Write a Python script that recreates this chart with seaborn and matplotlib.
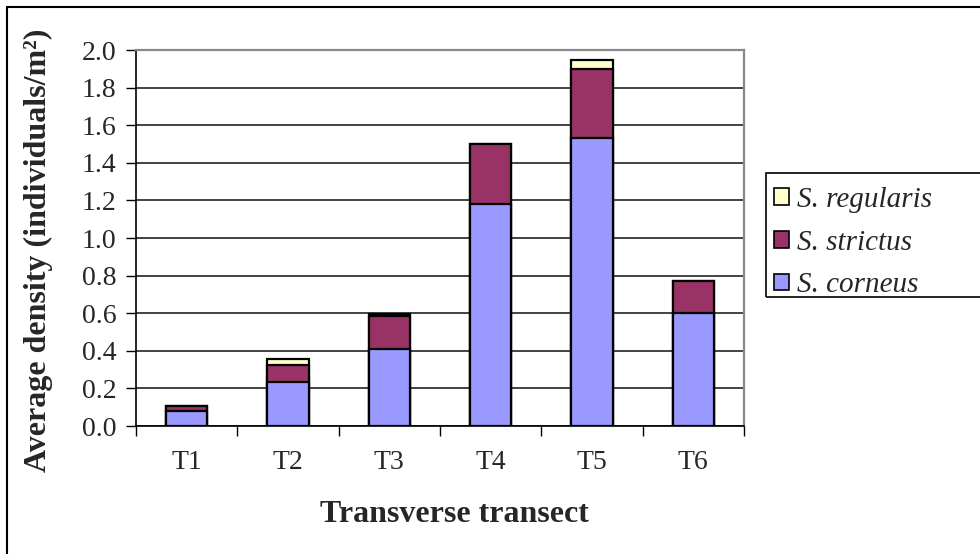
import matplotlib
matplotlib.use("Agg")
import matplotlib.pyplot as plt
import seaborn as sns
import numpy as np
import pandas as pd
from matplotlib.patches import Patch
from matplotlib.lines import Line2D

transects = ["T1", "T2", "T3", "T4", "T5", "T6"]
corneus = [0.08, 0.235, 0.41, 1.18, 1.53, 0.60]
strictus = [0.025, 0.09, 0.175, 0.32, 0.37, 0.17]
regularis = [0.0, 0.03, 0.01, 0.0, 0.045, 0.0]
species = ["S. regularis", "S. strictus", "S. corneus"]
colors = {"S. corneus": "#9999FF", "S. strictus": "#993366", "S. regularis": "#FFFFCC"}

sns.set_theme(style="white")
plt.rcParams["font.family"] = ["Liberation Serif", "DejaVu Serif"]

fig = plt.figure(figsize=(9.8, 5.54), dpi=100)
ax = fig.add_axes([136/980, 1-426/554, (744-136)/980, (426-50)/554])

c = np.array(corneus)
s = np.array(strictus)
r = np.array(regularis)
layers = [("S. regularis", c + s + r), ("S. strictus", c + s), ("S. corneus", c)]
for name, tops in layers:
    df = pd.DataFrame({"transect": transects, "value": tops})
    sns.barplot(data=df, x="transect", y="value", color=colors[name],
                saturation=1, width=0.41, edgecolor="black", linewidth=1.6,
                ax=ax, zorder=3)

ax.set_xlim(-0.5, 5.5)
ax.set_ylim(0, 2.0)
ax.set_yticks(np.arange(0, 2.01, 0.2))
ax.set_yticklabels([f"{v:.1f}" for v in np.arange(0, 2.01, 0.2)], fontsize=20)
ax.set_xticks(range(6))
ax.set_xticklabels(transects, fontsize=20)
ax.set_xticks(np.arange(-0.5, 6, 1), minor=True)
ax.tick_params(axis="x", which="major", length=0, pad=17)
ax.tick_params(axis="x", which="minor", length=7, width=1, color="black", direction="out", bottom=True)
ax.tick_params(axis="y", length=7, width=1, color="black", direction="out", left=True, pad=7)
ax.yaxis.grid(True, color="#222222", linewidth=1.2, zorder=0)
ax.set_axisbelow(True)
ax.set_xlabel("")
ax.set_ylabel("")
for sp in ["top", "right"]:
    ax.spines[sp].set_color("#888888")
    ax.spines[sp].set_linewidth(1.6)
for sp in ["left", "bottom"]:
    ax.spines[sp].set_color("black")
    ax.spines[sp].set_linewidth(1.2)

fig.text(38/980, 1-250/554, "Average density (individuals/m²)", rotation=90,
         ha="center", va="center", fontsize=23, fontweight="bold")
fig.text(454/980, 1-514/554, "Transverse transect", ha="center", va="center",
         fontsize=23, fontweight="bold")

# outer frame (top & left visible)
fig.add_artist(Line2D([7/980, 1], [1-7/554, 1-7/554], color="black", lw=1.5, transform=fig.transFigure))
fig.add_artist(Line2D([7/980, 7/980], [0, 1-7/554], color="black", lw=1.5, transform=fig.transFigure))

# legend frame
fig.add_artist(plt.Rectangle((766/980, 1-297/554), (985-766)/980, (297-173)/554,
                             fill=False, edgecolor="black", lw=1.2, transform=fig.transFigure))
handles = [Patch(facecolor=colors[n], edgecolor="black", linewidth=1.2) for n in species]
leg = fig.legend(handles, species, loc="upper left", bbox_to_anchor=(771/980, 1-184/554),
                 frameon=False, prop={"family": "Liberation Serif", "style": "italic", "size": 21},
                 handlelength=0.5, handleheight=0.5, handletextpad=0.3, labelspacing=0.57,
                 borderaxespad=0, borderpad=0.1)

fig.savefig("out.png", dpi=100, facecolor="white")
